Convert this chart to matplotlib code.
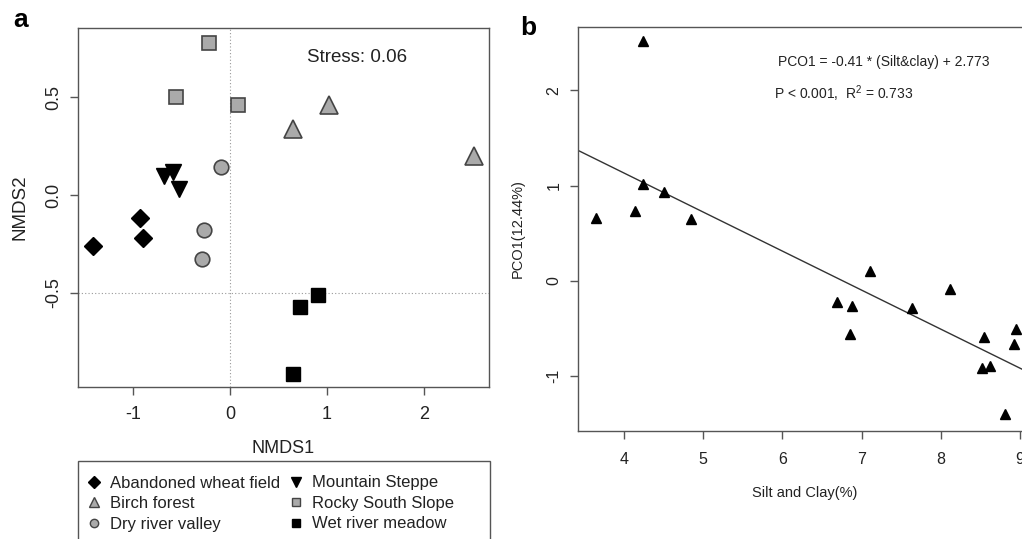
import matplotlib
matplotlib.use("Agg")
import matplotlib.pyplot as plt
from matplotlib.lines import Line2D
from matplotlib.patches import Rectangle
import numpy as np

plt.rcParams["font.family"] = ["Liberation Sans", "DejaVu Sans"]
plt.rcParams["mathtext.fontset"] = "custom"
plt.rcParams["mathtext.rm"] = "Liberation Sans"
plt.rcParams["mathtext.it"] = "Liberation Sans"
plt.rcParams["axes.unicode_minus"] = False

# ── panel a: NMDS scores per habitat ─────────────────────────
wheat_x = [-0.93, -0.90, -1.41]
wheat_y = [-0.12, -0.22, -0.26]
birch_x = [0.65, 1.02, 2.52]
birch_y = [0.34, 0.46, 0.20]
dry_x = [-0.09, -0.27, -0.29]
dry_y = [0.145, -0.18, -0.33]
steppe_x = [-0.68, -0.59, -0.53]
steppe_y = [0.095, 0.12, 0.03]
rocky_x = [-0.22, -0.56, 0.08]
rocky_y = [0.78, 0.50, 0.46]
wet_x = [0.91, 0.72, 0.65]
wet_y = [-0.51, -0.575, -0.915]
stress = 0.06

# ── panel b: PCO1 vs silt & clay ─────────────────────────────
silt_clay = [4.24, 3.64, 4.14, 4.24, 4.50, 4.85, 7.10, 6.69, 6.88, 6.85,
             7.64, 8.12, 8.54, 8.95, 8.92, 8.52, 8.62, 8.81]
pco1 = [2.52, 0.66, 0.735, 1.02, 0.93, 0.65, 0.10, -0.22, -0.26, -0.56,
        -0.28, -0.09, -0.59, -0.51, -0.665, -0.91, -0.89, -1.40]
slope = -0.41
intercept = 2.773

GRAY = "#aaaaaa"
EDGE = "#444444"
FRAME = "#555555"
INK = "#222222"

fig = plt.figure(figsize=(10.22, 5.39), dpi=100)


def style_axes(ax, fs, xpad, ypad):
    for sp in ax.spines.values():
        sp.set_color(FRAME)
        sp.set_linewidth(1.0)
    ax.tick_params(direction="out", length=5.5, width=1.0, color=FRAME,
                   labelsize=fs, labelcolor=INK)
    ax.tick_params(axis="x", pad=xpad)
    ax.tick_params(axis="y", pad=ypad)
    for lab in ax.get_yticklabels():
        lab.set_rotation(90)
        lab.set_va("center")


# panel a
ax_a = fig.add_axes([78 / 1022, 152 / 539, 411 / 1022, 359 / 539])
ax_a.set_xlim(-1.567, 2.67)
ax_a.set_ylim(-0.983, 0.855)
ax_a.axvline(0, color="#999999", lw=0.8, ls=(0, (1, 2)), zorder=0)
ax_a.axhline(-0.5, color="#999999", lw=0.8, ls=(0, (1, 2)), zorder=0)

ax_a.plot(wheat_x, wheat_y, ls="none", marker="D", ms=9, mfc="black", mec="black")
ax_a.plot(birch_x, birch_y, ls="none", marker="^", ms=13, mfc=GRAY, mec=EDGE, mew=1.2)
ax_a.plot(dry_x, dry_y, ls="none", marker="o", ms=10.5, mfc=GRAY, mec=EDGE, mew=1.2)
ax_a.plot(steppe_x, steppe_y, ls="none", marker="v", ms=12, mfc="black", mec="black")
ax_a.plot(rocky_x, rocky_y, ls="none", marker="s", ms=9.5, mfc=GRAY, mec=EDGE, mew=1.2)
ax_a.plot(wet_x, wet_y, ls="none", marker="s", ms=10, mfc="black", mec="black")

ax_a.text(1.31, 0.705, f"Stress: {stress:.2f}", ha="center", va="center",
          fontsize=13.5, color=INK)

ax_a.set_xticks([-1, 0, 1, 2])
ax_a.set_xticklabels(["-1", "0", "1", "2"])
ax_a.set_yticks([-0.5, 0.0, 0.5])
ax_a.set_yticklabels(["-0.5", "0.0", "0.5"])
style_axes(ax_a, 13, 8, 6)
ax_a.set_xlabel("NMDS1", fontsize=13, color=INK, va="center")
ax_a.xaxis.set_label_coords(0.5, -0.171)
ax_a.set_ylabel("NMDS2", fontsize=13.5, color=INK, va="center")
ax_a.yaxis.set_label_coords(-0.141, 0.5)

handles = [
    Line2D([], [], ls="none", marker="D", ms=6, mfc="black", mec="black"),
    Line2D([], [], ls="none", marker="^", ms=7, mfc=GRAY, mec=EDGE),
    Line2D([], [], ls="none", marker="o", ms=6, mfc=GRAY, mec=EDGE),
    Line2D([], [], ls="none", marker="v", ms=7, mfc="black", mec="black"),
    Line2D([], [], ls="none", marker="s", ms=6, mfc=GRAY, mec=EDGE),
    Line2D([], [], ls="none", marker="s", ms=6, mfc="black", mec="black"),
]
labels = ["Abandoned wheat field", "Birch forest", "Dry river valley",
          "Mountain Steppe", "Rocky South Slope", "Wet river meadow"]
fig.legend(handles, labels, ncol=2, loc="upper left",
           bbox_to_anchor=(87.5 / 1022, 1 - 475.5 / 539),
           frameon=False, fontsize=12, borderpad=0, borderaxespad=0,
           handlelength=0.8, handletextpad=0.56, columnspacing=0.55,
           labelspacing=0.33, labelcolor=INK)
fig.patches.append(Rectangle((78 / 1022, -0.02), 412 / 1022, 1 - 461 / 539 + 0.02,
                             transform=fig.transFigure, fill=False,
                             ec=FRAME, lw=1.0))

# panel b
ax_b = fig.add_axes([577.7 / 1022, 108.3 / 539, 454.3 / 1022, 404 / 539])
ax_b.set_xlim(3.415, 9.15)
ax_b.set_ylim(-1.573, 2.67)
xs = np.array(ax_b.get_xlim())
ax_b.plot(xs, slope * xs + intercept, color="#333333", lw=1.0)
ax_b.plot(silt_clay, pco1, ls="none", marker="^", ms=7.5, mfc="black", mec="black")

ax_b.text(5.94, 2.30, f"PCO1 = {slope} * (Silt&clay) + {intercept}",
          ha="left", va="center", fontsize=10, color=INK)
ax_b.text(5.89, 1.97, "P < 0.001,  R$^2$ = 0.733",
          ha="left", va="center", fontsize=10, color=INK)

ax_b.set_xticks([4, 5, 6, 7, 8, 9])
ax_b.set_yticks([-1, 0, 1, 2])
style_axes(ax_b, 11.5, 10, 6)
ax_b.set_xlabel("Silt and Clay(%)", fontsize=10.5, color=INK, va="center")
ax_b.xaxis.set_label_coords(0.5, -0.155)
ax_b.set_ylabel("PCO1(12.44%)", fontsize=10.5, color=INK, va="center")
ax_b.yaxis.set_label_coords(-0.131, 0.5)

fig.text(21 / 1022, 1 - 20 / 539, "a", fontsize=19, fontweight="bold",
         ha="center", va="center")
fig.text(528 / 1022, 1 - 28 / 539, "b", fontsize=19, fontweight="bold",
         ha="center", va="center")

fig.savefig("out.png", dpi=100)
